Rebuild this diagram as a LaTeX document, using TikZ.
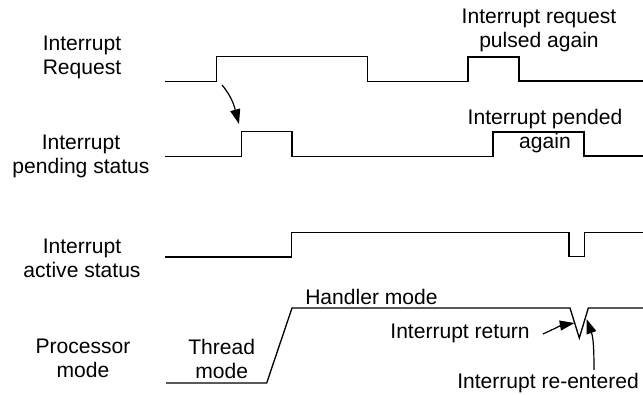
\documentclass[tikz,border=0pt]{standalone}
\usepackage{fontspec}
\setmainfont{Liberation Sans}
\usetikzlibrary{arrows.meta}
\begin{document}
\begin{tikzpicture}[x=0.75pt,y=-0.75pt,
  lbl/.style={align=center,inner sep=0pt,font=\fontsize{15.8}{18}\selectfont},
  wave/.style={line width=1pt,line join=miter},
  callout/.style={line width=0.9pt,-{Triangle[length=11pt,width=7.5pt]}}]
\useasboundingbox (0,0) rectangle (643,395);
% row labels
\node[lbl] (l1) at (82,57) {Interrupt\\Request};
\node[lbl] (l2) at (81,156.5) {Interrupt\\pending status};
\node[lbl] (l3) at (82,258.5) {Interrupt\\active status};
\node[lbl] (l4) at (83,358.5) {Processor\\mode};
% waveforms
\draw[wave] (165,81.5) -- (216.5,81.5) -- (216.5,56.5) -- (367.7,56.5) -- (367.7,81.5)
  -- (468,81.5) -- (468,57) -- (519,57) -- (519,81) -- (643,81);
\draw[wave] (165,156.5) -- (241.7,156.5) -- (241.7,131.7) -- (292,131.7) -- (292,156.5)
  -- (493,156.5) -- (493,132) -- (584,132) -- (584,156) -- (643,156);
\draw[wave] (165,257) -- (291.7,257) -- (291.7,232.7) -- (569,232.7) -- (569,256.5)
  -- (584.3,256.5) -- (584.3,232.7) -- (643,232.7);
\draw[wave] (166,383) -- (266.7,383) -- (292,308) -- (570,308) -- (579.3,338)
  -- (588.3,308) -- (643,308);
% annotations
\node[lbl] (t1) at (539,30.5) {Interrupt request\\pulsed again};
\node[lbl] (t2) at (545,131.5) {Interrupt pended\\again};
\node[lbl,anchor=west] (hm) at (305,297) {Handler mode};
\node[lbl,anchor=east] (ir) at (530,333) {Interrupt return};
\node[lbl] (ie) at (548,383) {Interrupt re-entered};
\node[lbl] (tm) at (221.7,358.5) {Thread\\mode};
% arrows
\coordinate (a1s) at (222,85);
\coordinate (a1e) at (239,124);
\draw[callout] (a1s) to[out=-50,in=105] (a1e);
\coordinate (a2s) at (543,334);
\coordinate (a2e) at (574.5,323);
\draw[callout] (a2s) to[out=25,in=190] (a2e);
\coordinate (a3s) at (594,370);
\coordinate (a3e) at (586.5,319);
\draw[callout] (a3s) to[out=90,in=-70] (a3e);
\end{tikzpicture}
\end{document}
